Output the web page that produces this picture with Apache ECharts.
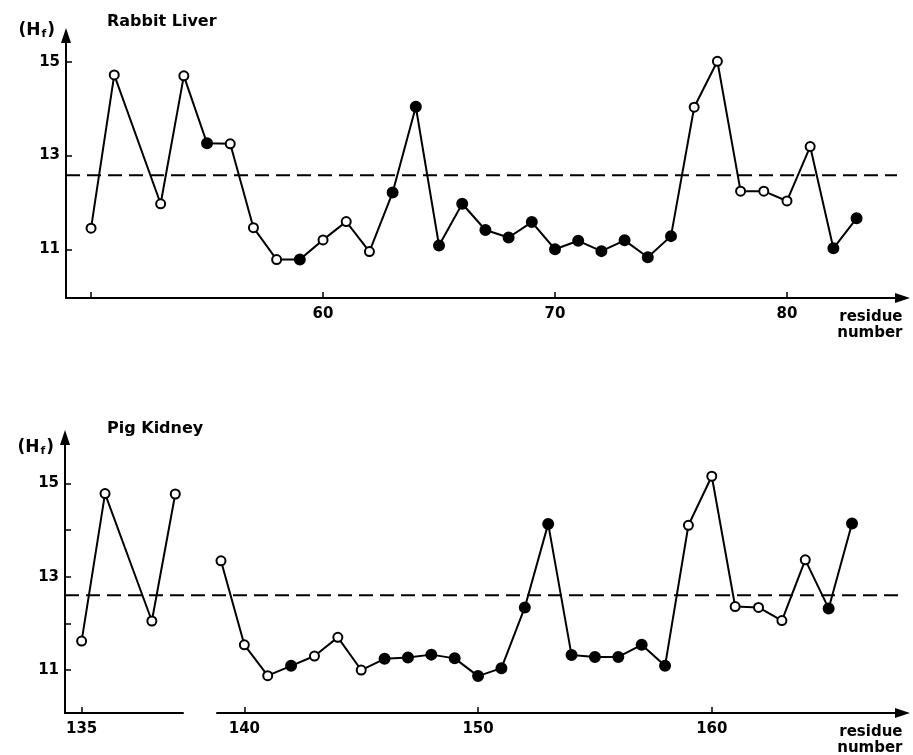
<!DOCTYPE html>
<html>
<head>
<meta charset="utf-8">
<script src="https://cdn.jsdelivr.net/npm/echarts@6/dist/echarts.min.js"></script>
<style>
  html, body { margin: 0; padding: 0; background: #fff; }
  #chart { width: 913px; height: 755px; }
</style>
</head>
<body>
<div id="chart"></div>
<script>
// Rabbit Liver (top panel)
const rabbitResidue = [50, 51, 53, 54, 55, 56, 57, 58, 59, 60, 61, 62, 63, 64, 65, 66, 67, 68, 69, 70,
  71, 72, 73, 74, 75, 76, 77, 78, 79, 80, 81, 82, 83];
const rabbitHf = [11.45, 14.72, 11.97, 14.70, 13.26, 13.25, 11.46, 10.78, 10.78, 11.20, 11.59, 10.95,
  12.21, 14.04, 11.08, 11.97, 11.41, 11.25, 11.58, 11.00, 11.18, 10.96, 11.19, 10.83, 11.28, 14.03,
  15.01, 12.24, 12.24, 12.03, 13.19, 11.02, 11.66];
const rabbitFilled = [0, 0, 0, 0, 1, 0, 0, 0, 1, 0, 0, 0, 1, 1, 1, 1, 1, 1, 1, 1, 1, 1, 1, 1, 1, 0,
  0, 0, 0, 0, 0, 1, 1];
const rabbitThreshold = 12.58;

// Pig Kidney (bottom panel), two pieces either side of the axis break
const pigResidueA = [135, 136, 138, 139];
const pigHfA = [11.62, 14.78, 12.05, 14.77];
const pigFilledA = [0, 0, 0, 0];
const pigResidueB = [139, 140, 141, 142, 143, 144, 145, 146, 147, 148, 149, 150, 151, 152, 153, 154,
  155, 156, 157, 158, 159, 160, 161, 162, 163, 164, 165, 166];
const pigHfB = [13.34, 11.54, 10.88, 11.09, 11.30, 11.70, 11.00, 11.24, 11.27, 11.33, 11.25, 10.87,
  11.04, 12.34, 14.13, 11.32, 11.28, 11.28, 11.54, 11.09, 14.10, 15.15, 12.36, 12.34, 12.06, 13.36,
  12.32, 14.14];
const pigFilledB = [0, 0, 0, 1, 0, 0, 0, 1, 1, 1, 1, 1, 1, 1, 1, 1, 1, 1, 1, 1, 0, 0, 0, 0, 0, 0, 1, 1];
const pigThreshold = 12.6;

// tick labels
const rabbitXTicks = [50, 60, 70, 80];
const rabbitXLabels = [60, 70, 80];
const rabbitYTicks = [11, 13, 15];
const pigXTicksA = [135];
const pigXTicksB = [140, 150, 160];
const pigYTicks = [11, 12, 13, 14, 15];
const pigYLabels = [11, 13, 15];

const FONT = 'DejaVu Sans';

function points(xs, ys, filled) {
  return xs.map((x, i) => ({
    value: [x, ys[i]],
    symbolSize: filled[i] ? 10 : 9,
    itemStyle: filled[i] ? { color: '#000', borderColor: '#000' } : { color: '#fff', borderColor: '#000' },
  }));
}

const axisLineStyle = { color: '#000', width: 2 };
function hfName(gap) {
  return {
    name: '{p|(H}{s|f}{p|)}',
    nameLocation: 'end',
    nameGap: gap,
    nameTextStyle: {
      align: 'right',
      verticalAlign: 'middle',
      padding: [0, 11, 0, 0],
      rich: {
        p: { fontFamily: FONT, fontWeight: 'bold', fontSize: 17, color: '#000' },
        s: { fontFamily: FONT, fontWeight: 'bold', fontSize: 11, color: '#000', verticalAlign: 'bottom', padding: [7, 1, 0, 1] },
      },
    },
  };
}
const residueName = {
  name: 'residue\nnumber',
  nameLocation: 'end',
  nameGap: 0,
  nameTextStyle: {
    fontFamily: FONT, fontWeight: 'bold', fontSize: 15, color: '#000',
    align: 'right', verticalAlign: 'top', lineHeight: 16,
    padding: [11, 0, 0, 0],
  },
};
const arrowLine = { show: true, lineStyle: axisLineStyle, symbol: ['none', 'triangle'], symbolSize: [10, 15] };

function xAxis(gridIndex, min, max, ticks, labels, arrow, extra) {
  return Object.assign({
    type: 'value', gridIndex, min, max,
    splitLine: { show: false },
    axisLine: arrow ? arrowLine : { show: true, lineStyle: axisLineStyle },
    axisTick: { show: true, inside: true, length: 6, lineStyle: { color: '#000', width: 1.5 }, customValues: ticks },
    axisLabel: { show: true, margin: 9, fontFamily: FONT, fontWeight: 'bold', fontSize: 15, color: '#000', customValues: labels },
  }, extra || {});
}

function yAxis(gridIndex, min, max, ticks, labels, show, extra) {
  return Object.assign({
    type: 'value', gridIndex, min, max, show,
    splitLine: { show: false },
    axisLine: arrowLine,
    axisTick: { show: true, inside: true, length: 6, lineStyle: { color: '#000', width: 1.5 }, customValues: ticks },
    axisLabel: { show: true, margin: 6, fontFamily: FONT, fontWeight: 'bold', fontSize: 15, color: '#000', customValues: labels },
  }, extra || {});
}

function hidden(gridIndex, min, max) {
  return { type: 'value', gridIndex, min, max, show: false };
}

const chart = echarts.init(document.getElementById('chart'), null, { renderer: 'canvas' });

const option = {
  backgroundColor: '#fff',
  animation: false,
  title: [
    { text: 'Rabbit Liver', left: 107, top: 14, padding: 0,
      textStyle: { fontFamily: FONT, fontWeight: 'bold', fontSize: 16, color: '#000' } },
    { text: 'Pig Kidney', left: 107, top: 421, padding: 0,
      textStyle: { fontFamily: FONT, fontWeight: 'bold', fontSize: 16, color: '#000' } },
  ],
  grid: [
    { left: 66, top: 35.5, width: 836.5, height: 262.5, outerBoundsMode: 'none' },  // 0 rabbit
    { left: 65, top: 437.5, width: 118, height: 275.5, outerBoundsMode: 'none' },   // 1 pig, before break
    { left: 217, top: 437.5, width: 685.5, height: 275.5, outerBoundsMode: 'none' },// 2 pig, after break
    { left: 66, top: 35.5, width: 831, height: 262.5, outerBoundsMode: 'none' },    // 3 rabbit dashed line
    { left: 65, top: 437.5, width: 835, height: 275.5, outerBoundsMode: 'none' },   // 4 pig dashed line
  ],
  xAxis: [
    xAxis(0, 48.92, 84.98, rabbitXTicks, rabbitXLabels, true, residueName),
    xAxis(1, 134.29, 139.33, pigXTicksA, pigXTicksA, false),
    xAxis(2, 138.83, 168.16, pigXTicksB, pigXTicksB, true, residueName),
    hidden(3, 0, 1),
    hidden(4, 0, 1),
  ],
  yAxis: [
    yAxis(0, 9.96, 15.56, rabbitYTicks, rabbitYTicks, true, hfName(5)),
    yAxis(1, 10.08, 15.98, pigYTicks, pigYLabels, true, hfName(-10)),
    yAxis(2, 10.08, 15.98, [], [], false),
    hidden(3, 9.96, 15.56),
    hidden(4, 10.08, 15.98),
  ],
  series: [
    {
      type: 'line', xAxisIndex: 3, yAxisIndex: 3, symbol: 'none', z: 1,
      lineStyle: { color: '#000', width: 2, type: [14, 7] },
      data: [[0, rabbitThreshold], [1, rabbitThreshold]],
    },
    {
      type: 'line', xAxisIndex: 4, yAxisIndex: 4, symbol: 'none', z: 1,
      lineStyle: { color: '#000', width: 2, type: [14, 7] },
      data: [[0, pigThreshold], [1, pigThreshold]],
    },
    {
      type: 'line', xAxisIndex: 0, yAxisIndex: 0, symbol: 'circle', z: 3,
      lineStyle: { color: '#000', width: 2 },
      itemStyle: { borderWidth: 2 },
      data: points(rabbitResidue, rabbitHf, rabbitFilled),
    },
    {
      type: 'line', xAxisIndex: 1, yAxisIndex: 1, symbol: 'circle', z: 3,
      lineStyle: { color: '#000', width: 2 },
      itemStyle: { borderWidth: 2 },
      data: points(pigResidueA, pigHfA, pigFilledA),
    },
    {
      type: 'line', xAxisIndex: 2, yAxisIndex: 2, symbol: 'circle', z: 3,
      lineStyle: { color: '#000', width: 2 },
      itemStyle: { borderWidth: 2 },
      data: points(pigResidueB, pigHfB, pigFilledB),
    },
  ],
};

chart.setOption(option);
</script>
</body>
</html>
